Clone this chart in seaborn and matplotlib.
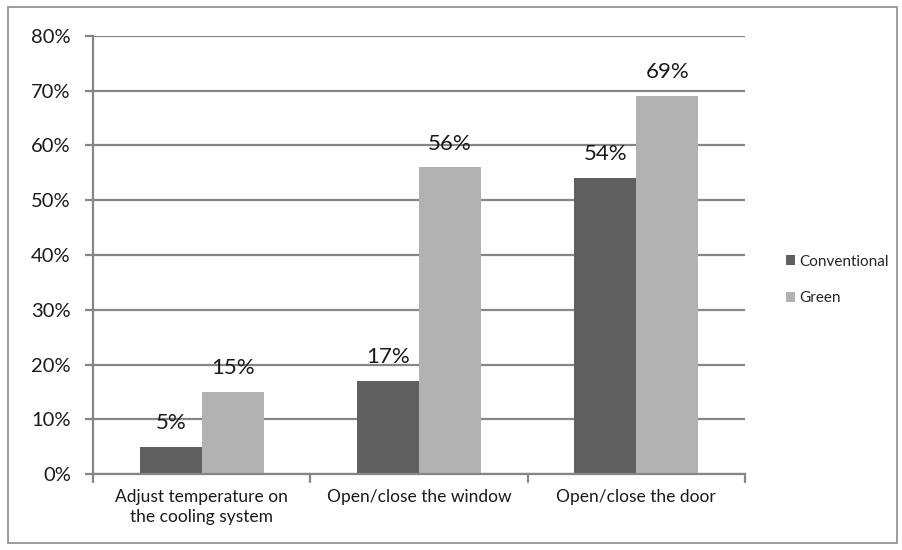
import matplotlib
matplotlib.use("Agg")
import matplotlib.pyplot as plt
import seaborn as sns
import pandas as pd
from matplotlib.patches import Rectangle
from matplotlib.ticker import FuncFormatter

categories = ["Adjust temperature on\nthe cooling system",
              "Open/close the window",
              "Open/close the door"]
series_names = ["Conventional", "Green"]
conventional = [5, 17, 54]
green = [15, 56, 69]
y_ticks = [0, 10, 20, 30, 40, 50, 60, 70, 80]

palette = {"Conventional": "#606060", "Green": "#B2B2B2"}
grid_color = "#868686"

sns.set_theme(style="white")
plt.rcParams["font.family"] = ["Lato", "DejaVu Sans"]

df = pd.DataFrame({
    "category": categories * 2,
    "series": [series_names[0]] * 3 + [series_names[1]] * 3,
    "value": conventional + green,
})

fig = plt.figure(figsize=(9.02, 5.5), dpi=100)
ax = fig.add_axes([93 / 902, 1 - 474 / 550, (745 - 93) / 902, (474 - 36) / 550])

sns.barplot(data=df, x="category", y="value", hue="series", palette=palette,
            width=0.57, saturation=1, linewidth=0, edgecolor="none",
            ax=ax, legend=True)

ax.set_ylim(0, 80)
ax.set_xlim(-0.5, 2.5)
ax.set_yticks(y_ticks)
ax.yaxis.set_major_formatter(FuncFormatter(lambda v, p: f"{v:.0f}%"))
ax.set_axisbelow(True)
ax.yaxis.grid(True, color=grid_color, linewidth=1.6)
ax.xaxis.grid(False)
for side in ["top", "right"]:
    ax.spines[side].set_visible(False)
for side in ["left", "bottom"]:
    ax.spines[side].set_color(grid_color)
    ax.spines[side].set_linewidth(1.6)

ax.set_xlabel("")
ax.set_ylabel("")
ax.tick_params(axis="y", labelsize=14.5, length=6, width=1.6, color=grid_color,
               left=True, pad=10, labelcolor="#1a1a1a")
ax.tick_params(axis="x", labelsize=12.5, labelcolor="#1a1a1a", length=0, pad=11)
ax.set_xticks([0, 1, 2])
ax.set_xticklabels(categories, linespacing=1.25)

# category separator ticks on the bottom axis
for xb in [-0.5, 0.5, 1.5, 2.5]:
    ax.plot([xb, xb], [0, -1.5], color=grid_color, linewidth=1.6, clip_on=False)

for cont in ax.containers:
    ax.bar_label(cont, labels=[f"{v:.0f}%" for v in cont.datavalues],
                 padding=10, fontsize=16, color="#1a1a1a")

handles, labels = ax.get_legend_handles_labels()
ax.legend(handles, labels, loc="center left", bbox_to_anchor=(772 / 902, 270 / 550),
          bbox_transform=fig.transFigure, frameon=False, fontsize=11,
          handlelength=0.6, handleheight=0.6, handletextpad=0.3, labelspacing=1.5)

fig.patches.append(Rectangle((8 / 902, 1 - 543 / 550), (897 - 8) / 902, (543 - 7) / 550,
                             transform=fig.transFigure, fill=False,
                             edgecolor="#8c8c8c", linewidth=1.2))

fig.savefig("out.png", dpi=100, facecolor="white")
